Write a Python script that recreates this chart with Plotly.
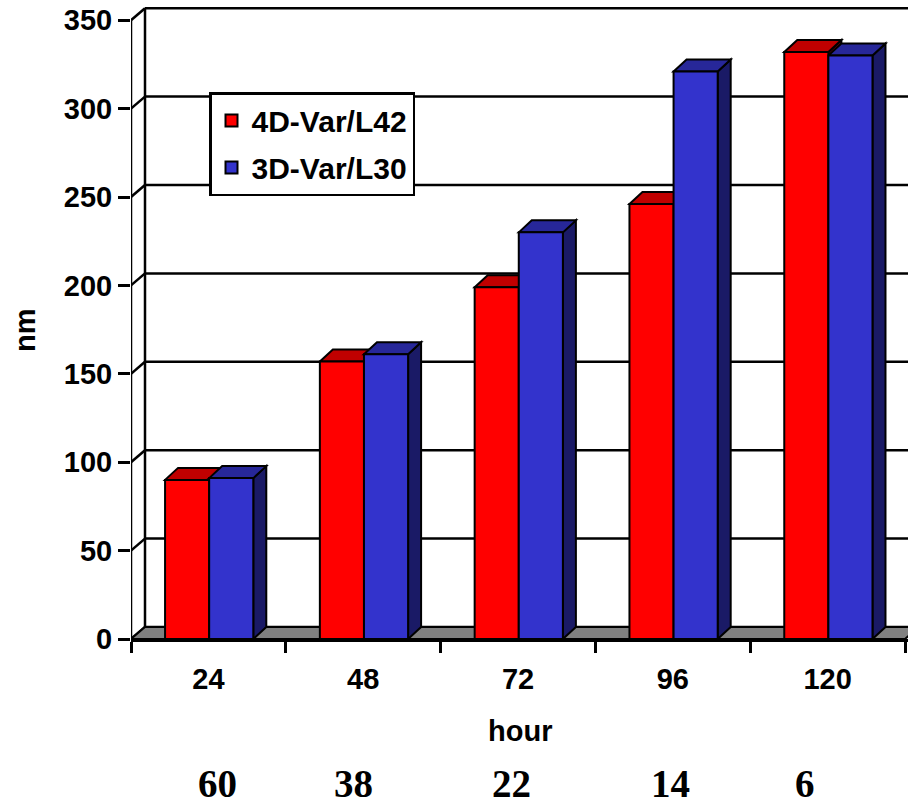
import plotly.graph_objects as go

# ---------------- data ----------------
categories = ["24", "48", "72", "96", "120"]
series_names = ["4D-Var/L42", "3D-Var/L30"]
red_vals = [90, 157, 199, 246, 332]
blue_vals = [91, 161, 230, 321, 330]
y_tick_vals = [0, 50, 100, 150, 200, 250, 300, 350]
bottom_labels = ["60", "38", "22", "14", "6"]

# ---------------- geometry / style ----------------
W, H = 908, 806
ML = 131            # left margin (front y axis position)
PLOT_B = 639        # pixel row of value 0
CAT_PX = 154.8      # pixels per category
PX_PER_UNIT = 1.768 # pixels per nm
XMAX = (W - ML) / CAT_PX
YMAX = PLOT_B / PX_PER_UNIT

WALL_DX = 14 / CAT_PX
WALL_DY = 12 / PX_PER_UNIT
BAR_DX = 13 / CAT_PX
BAR_DY = 12 / PX_PER_UNIT

BAR_W = 0.285
OFFSETS = [-0.28, 0.005]
FRONT = ["#FF0000", "#3333CC"]
TOP = ["#C00000", "#272799"]
SIDE = ["#800000", "#1A1A66"]
LW = 2.5
bottom_label_px = [217, 353, 511, 670, 805]

FONT = "Liberation Sans, Arial, sans-serif"
SERIF = "Liberation Serif, Times New Roman, serif"

fig = go.Figure()
xc = [i + 0.5 for i in range(len(categories))]
for s, vals in enumerate([red_vals, blue_vals]):
    fig.add_trace(go.Bar(
        x=xc, y=vals, name=series_names[s], legendgroup=series_names[s],
        offset=OFFSETS[s], width=BAR_W,
        marker=dict(color=FRONT[s], line=dict(color="black", width=2)),
        hoverinfo="skip",
    ))

shapes = []
line = dict(color="black", width=LW)
top_v = y_tick_vals[-1]
# back wall gridlines + left wall diagonals
for v in y_tick_vals:
    shapes.append(dict(type="line", xref="x", yref="y", x0=WALL_DX, x1=XMAX + 1,
                       y0=v + WALL_DY, y1=v + WALL_DY, line=line, layer="below"))
    shapes.append(dict(type="line", xref="x", yref="y", x0=0, x1=WALL_DX,
                       y0=v, y1=v + WALL_DY, line=line, layer="below"))
# back wall left edge
shapes.append(dict(type="line", xref="x", yref="y", x0=WALL_DX, x1=WALL_DX,
                   y0=WALL_DY, y1=top_v + WALL_DY, line=line, layer="below"))
# front y axis line
shapes.append(dict(type="line", xref="x", yref="y", x0=0, x1=0,
                   y0=0, y1=top_v, line=line, layer="below"))
# floor
n = len(categories)
shapes.append(dict(type="path", xref="x", yref="y",
                   path=f"M0,0 L{n},0 L{n + WALL_DX},{WALL_DY} L{WALL_DX},{WALL_DY} Z",
                   fillcolor="#808080", line=dict(color="black", width=2), layer="below"))

def P(pts):
    return "M" + " L".join(f"{x:.5f},{y:.4f}" for x, y in pts) + " Z"

for i in range(n):
    for s, vals in enumerate([red_vals, blue_vals]):
        v = vals[i]
        x0 = xc[i] + OFFSETS[s]
        x1 = x0 + BAR_W
        side = [(x1, 0), (x1 + BAR_DX, BAR_DY), (x1 + BAR_DX, v + BAR_DY), (x1, v)]
        top = [(x0, v), (x0 + BAR_DX, v + BAR_DY), (x1 + BAR_DX, v + BAR_DY), (x1, v)]
        shapes.append(dict(type="path", xref="x", yref="y", path=P(side),
                           fillcolor=SIDE[s], line=dict(color="black", width=2), layer="below"))
        shapes.append(dict(type="path", xref="x", yref="y", path=P(top),
                           fillcolor=TOP[s], line=dict(color="black", width=2), layer="below"))

def px2paper_x(px):
    return (px - ML) / (W - ML)

def py2paper_y(py):
    return (PLOT_B - py) / PLOT_B

annotations = [
    dict(text="<b>hour</b>", x=0.5, y=py2paper_y(731), xref="paper", yref="paper",
         showarrow=False, xanchor="center", yanchor="middle",
         font=dict(family=FONT, size=29, color="black")),
    dict(text="<b>nm</b>", x=px2paper_x(25), y=py2paper_y(330), xref="paper", yref="paper",
         showarrow=False, xanchor="center", yanchor="middle", textangle=-90,
         font=dict(family=FONT, size=29, color="black")),
]
for lab, px in zip(bottom_labels, bottom_label_px):
    annotations.append(dict(text=f"<b>{lab}</b>", x=px2paper_x(px), y=py2paper_y(783),
                            xref="paper", yref="paper", showarrow=False,
                            xanchor="center", yanchor="middle",
                            font=dict(family=SERIF, size=39, color="black")))

fig.update_layout(
    width=W, height=H,
    margin=dict(l=ML, r=0, t=0, b=H - PLOT_B, pad=0),
    paper_bgcolor="white", plot_bgcolor="white",
    barmode="overlay",
    shapes=shapes, annotations=annotations,
    showlegend=True,
    legend=dict(x=px2paper_x(209), y=py2paper_y(92), xanchor="left", yanchor="top",
                bgcolor="white", bordercolor="black", borderwidth=2.5,
                font=dict(family=FONT, size=30, color="black", weight="bold"),
                traceorder="grouped", tracegroupgap=5),
    xaxis=dict(range=[0, XMAX], showgrid=False, zeroline=False,
               showline=True, linecolor="black", linewidth=LW,
               tickmode="array", tickvals=xc, ticktext=[f"<b>{c}</b>" for c in categories],
               ticks="", ticklabelstandoff=12,
               tickfont=dict(family=FONT, size=29, color="black"),
               minor=dict(tickmode="array", tickvals=list(range(n + 1)), ticks="outside",
                          ticklen=11, tickwidth=LW, tickcolor="black", showgrid=False),
               fixedrange=True),
    yaxis=dict(range=[0, YMAX], showgrid=False, zeroline=False, showline=False,
               tickmode="array", tickvals=y_tick_vals,
               ticktext=[f"<b>{v}</b>" for v in y_tick_vals],
               ticks="outside", ticklen=12, tickwidth=LW, tickcolor="black",
               ticklabelstandoff=0,
               tickfont=dict(family=FONT, size=29, color="black"),
               fixedrange=True),
)
fig.write_html("out.html")
